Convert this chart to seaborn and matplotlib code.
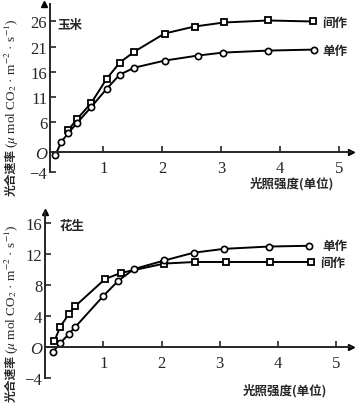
import numpy as np
import pandas as pd
import seaborn as sns
import matplotlib.pyplot as plt
from matplotlib.font_manager import FontProperties

# 玉米 (corn)
corn_x_jian = [0.41, 0.56, 0.80, 1.06, 1.28, 1.53, 2.04, 2.55, 3.05, 3.80, 4.55]
corn_y_jian = [4.4, 6.6, 9.8, 14.6, 17.8, 20.0, 23.6, 25.0, 25.8, 26.2, 26.0]
corn_x_dan = [0.19, 0.29, 0.41, 0.56, 0.80, 1.06, 1.28, 1.53, 2.04, 2.60, 3.03, 3.80, 4.57]
corn_y_dan = [-0.6, 2.0, 3.8, 5.8, 9.0, 12.6, 15.4, 16.8, 18.2, 19.2, 19.8, 20.2, 20.4]

# 花生 (peanut)
pea_x_jian = [0.16, 0.26, 0.41, 0.52, 1.03, 1.31, 2.05, 2.57, 3.10, 3.86, 4.57]
pea_y_jian = [0.8, 2.6, 4.3, 5.3, 8.8, 9.6, 10.8, 11.0, 11.0, 11.0, 11.0]
pea_x_dan = [0.14, 0.26, 0.41, 0.52, 1.00, 1.26, 1.53, 2.05, 2.55, 3.07, 3.84, 4.53]
pea_y_dan = [-0.6, 0.5, 1.7, 2.6, 6.6, 8.6, 10.1, 11.2, 12.2, 12.7, 13.0, 13.1]

corn_yticks = [26, 21, 16, 11, 6, 0, -4]
pea_yticks = [16, 12, 8, 4, 0, -4]
xticks = [1, 2, 3, 4, 5]

sns.set_style("ticks")
plt.rcParams['font.family'] = ['Noto Sans CJK SC', 'DejaVu Sans']
plt.rcParams['mathtext.fontset'] = 'stix'

serif = FontProperties(family='Liberation Serif', size=12)
serif_it = FontProperties(family='Liberation Serif', size=12, style='italic')

fig = plt.figure(figsize=(3.58, 4.10), dpi=100)
ax_top = fig.add_axes([0.14, 0.578, 0.84, 0.41])
ax_bot = fig.add_axes([0.126, 0.076, 0.854, 0.405])


def draw_panel(ax, xj, yj, xd, yd, yticks, ylim, xlim):
    df_j = pd.DataFrame({'x': xj, 'y': yj})
    df_d = pd.DataFrame({'x': xd, 'y': yd})
    sns.lineplot(data=df_j, x='x', y='y', ax=ax, color='black', lw=1.4,
                 marker='s', markersize=5, markerfacecolor='white',
                 markeredgecolor='black', markeredgewidth=1.3, sort=False)
    sns.lineplot(data=df_d, x='x', y='y', ax=ax, color='black', lw=1.4,
                 marker='o', markersize=4.5, markerfacecolor='white',
                 markeredgecolor='black', markeredgewidth=1.2, sort=False)
    ax.set_xlim(*xlim)
    ax.set_ylim(*ylim)
    ax.spines['top'].set_visible(False)
    ax.spines['right'].set_visible(False)
    ax.spines['bottom'].set_position(('data', 0))
    ax.spines['left'].set_linewidth(1.4)
    ax.spines['bottom'].set_linewidth(1.4)
    # arrows at axis ends
    ax.plot(1, 0, '>k', transform=ax.get_yaxis_transform(), clip_on=False, markersize=5)
    ax.plot(0, 1, '^k', transform=ax.get_xaxis_transform(), clip_on=False, markersize=5)
    ax.set_xticks(xticks)
    ax.set_xticklabels([str(t) for t in xticks])
    for lab in ax.get_xticklabels():
        lab.set_fontproperties(serif)
    ax.set_yticks(yticks)
    labels = ['O' if t == 0 else str(t).replace('-', '\u2212') for t in yticks]
    ax.set_yticklabels(labels)
    for lab, t in zip(ax.get_yticklabels(), yticks):
        lab.set_fontproperties(serif_it if t == 0 else serif)
    ax.tick_params(axis='both', direction='in', length=4, width=1.2, pad=2)
    ax.tick_params(axis='x', pad=6)
    ax.set_xlabel('')
    ax.set_ylabel('')


draw_panel(ax_top, corn_x_jian, corn_y_jian, corn_x_dan, corn_y_dan,
           corn_yticks, (-4, 29.5), (0.1, 5.2))
draw_panel(ax_bot, pea_x_jian, pea_y_jian, pea_x_dan, pea_y_dan,
           pea_yticks, (-4, 17.5), (0.0, 5.25))

# y label: Chinese part bold, unit part in a serif face
ylab_cn = '光合速率'
ylab_unit = r'($\mu$ mol CO$_2$ · m$^{-2}$ · s$^{-1}$)'
for y_end in (196, 402):
    fig.text(0.032, 1 - y_end / 410, ylab_cn, rotation=90, ha='center', va='bottom',
             fontsize=8.5, fontweight='bold')
    fig.text(0.034, 1 - (y_end - 48) / 410, ylab_unit, rotation=90, ha='center',
             va='bottom', fontsize=9.5, family=['Liberation Serif', 'DejaVu Sans'])

fig.text(292 / 358, 1 - 184 / 410, '光照强度(单位)', ha='center', va='center',
         fontsize=9, fontweight='bold')
fig.text(285 / 358, 1 - 391 / 410, '光照强度(单位)', ha='center', va='center',
         fontsize=9, fontweight='bold')

fig.text(70 / 358, 1 - 25 / 410, '玉米', ha='center', va='center', fontsize=9, fontweight='bold')
fig.text(72 / 358, 1 - 226 / 410, '花生', ha='center', va='center', fontsize=9, fontweight='bold')

fig.text(322 / 358, 1 - 24 / 410, '间作', ha='left', va='center', fontsize=9, fontweight='bold')
fig.text(322 / 358, 1 - 51 / 410, '单作', ha='left', va='center', fontsize=9, fontweight='bold')
fig.text(322 / 358, 1 - 247 / 410, '单作', ha='left', va='center', fontsize=9, fontweight='bold')
fig.text(320 / 358, 1 - 263 / 410, '间作', ha='left', va='center', fontsize=9, fontweight='bold')

fig.savefig('out.png', dpi=100)
